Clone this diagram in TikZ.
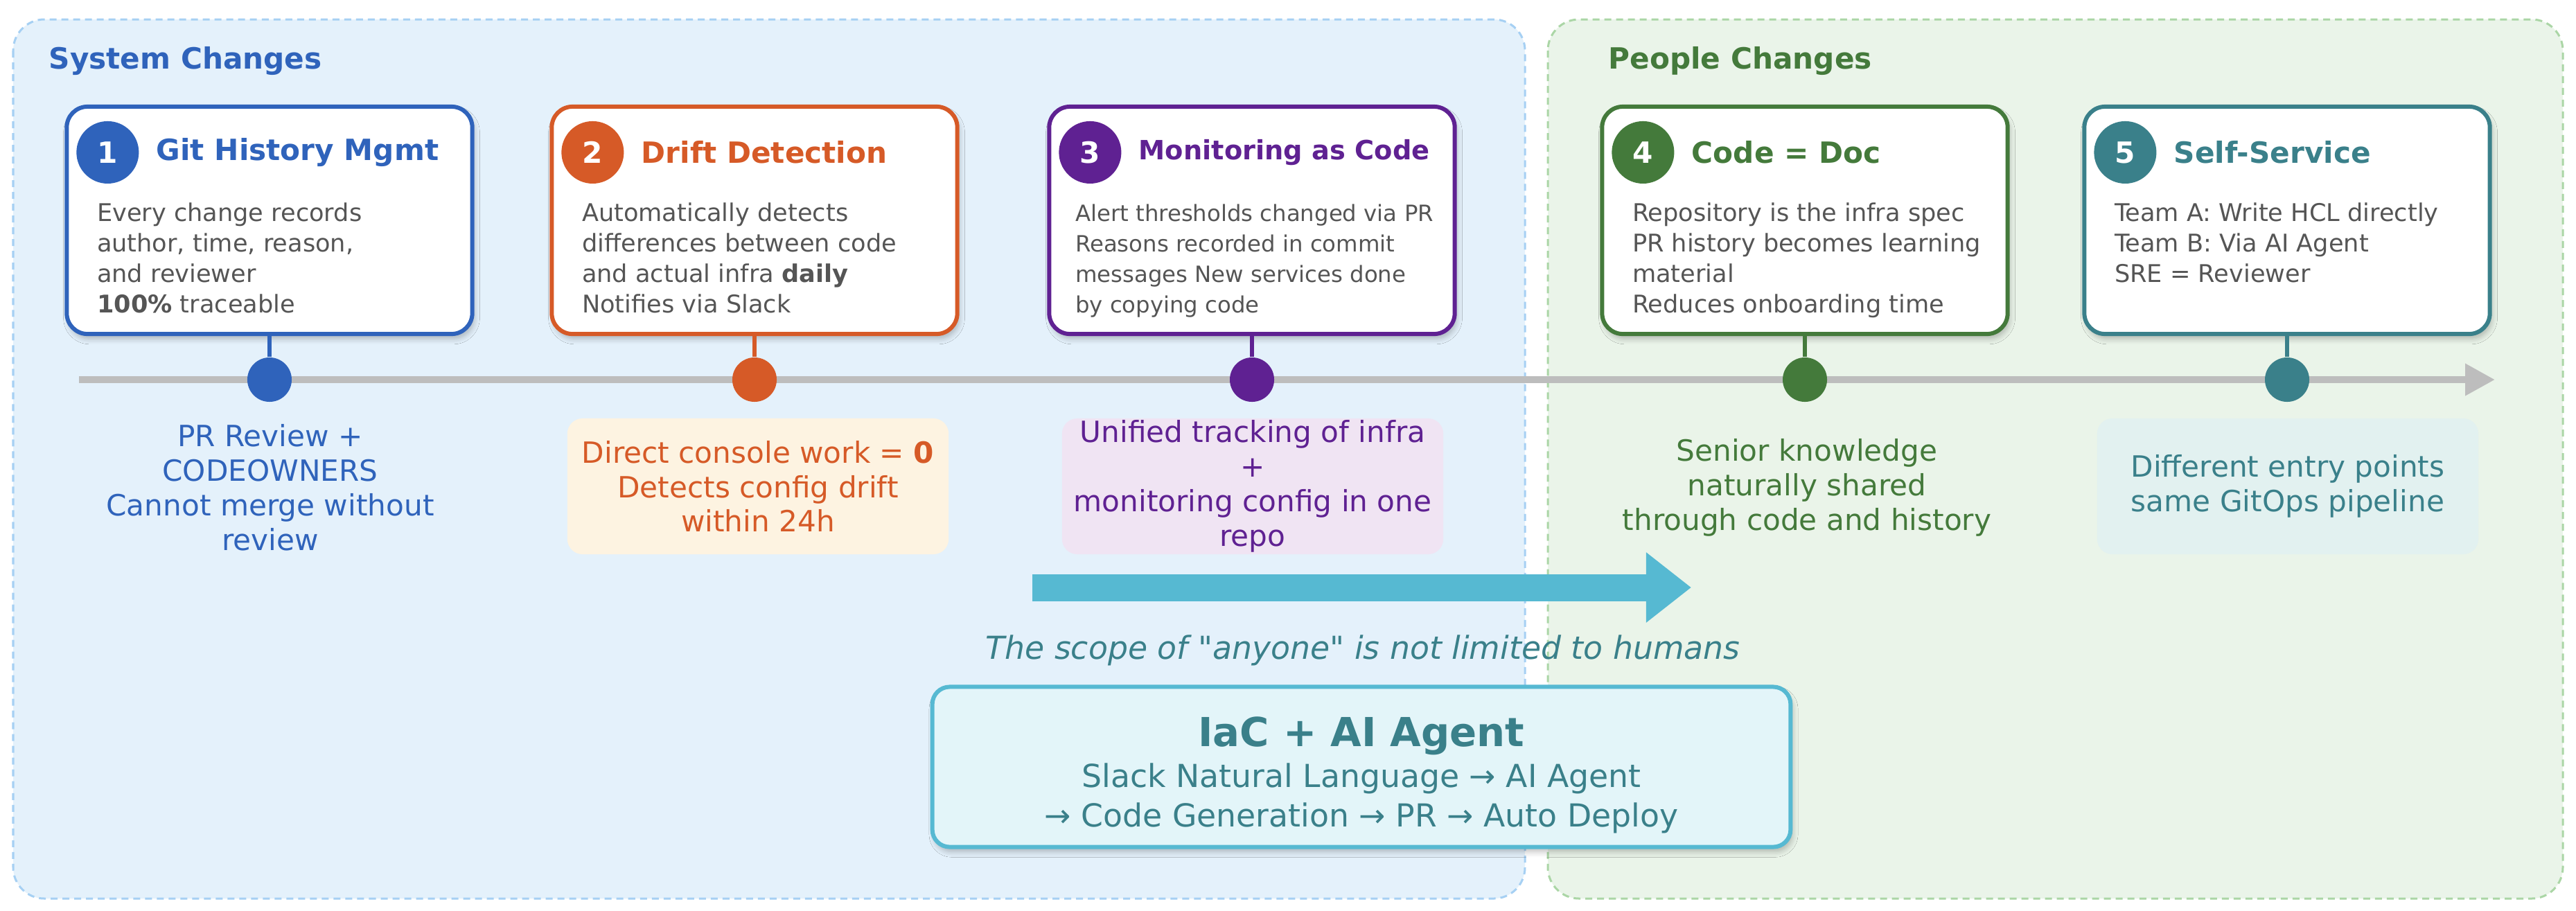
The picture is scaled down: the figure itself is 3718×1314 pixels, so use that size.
\documentclass[tikz,border=0pt]{standalone}
\usepackage{fontspec}
\setmainfont{DejaVu Sans}
\usetikzlibrary{arrows.meta,positioning,shadows.blur}

\definecolor{sysblue}{HTML}{2F63BB}
\definecolor{driftorange}{HTML}{D65A27}
\definecolor{monpurple}{HTML}{5F2192}
\definecolor{docgreen}{HTML}{447A3B}
\definecolor{selfteal}{HTML}{3A808A}
\definecolor{bodygray}{HTML}{555555}
\definecolor{linegray}{HTML}{BDBDBD}
\definecolor{flowcyan}{HTML}{56B9D2}
\definecolor{sysfill}{HTML}{E4F1FB}
\definecolor{sysedge}{HTML}{A6D0F3}
\definecolor{ppfill}{HTML}{EAF4E9}
\definecolor{ppedge}{HTML}{ABD6A6}
\definecolor{creamfill}{HTML}{FDF3E1}
\definecolor{lilacfill}{HTML}{F0E4F3}
\definecolor{mintfill}{HTML}{E2F1F0}
\definecolor{iacfill}{HTML}{E3F5F9}

\tikzset{
  panel/.style={rounded corners=0.45cm, dashed, dash pattern=on 0.1cm off 0.07cm, line width=0.03cm},
  card/.style={draw=#1, fill=white, line width=0.06cm, rounded corners=0.3cm,
    minimum width=5.85cm, minimum height=3.28cm,
    blur shadow={shadow xshift=0.03cm, shadow yshift=-0.07cm, shadow blur steps=6, shadow opacity=25}},
  badge/.style={circle, fill=#1, minimum size=0.9cm, inner sep=0pt, text=white,
    font=\fontsize{12}{12}\selectfont\bfseries},
  tldot/.style={circle, fill=#1, minimum size=0.64cm, inner sep=0pt},
  cardbody/.style={anchor=north west, inner sep=0pt, align=left, text=bodygray,
    font=\fontsize{10}{12.5}\selectfont},
  notetext/.style={inner sep=0pt, align=center, font=\fontsize{12}{14.2}\selectfont},
  notebox/.style={fill=#1, rounded corners=0.22cm, minimum width=5.5cm, minimum height=1.96cm},
  headline/.style={anchor=west, inner sep=0pt, font=\fontsize{12}{12}\selectfont\bfseries}
}

\begin{document}
\begin{tikzpicture}[x=0.01cm, y=-0.01cm]
  \useasboundingbox (0,0) rectangle (3718,1314);
  % background panels
  \draw[panel, draw=sysedge, fill=sysfill] (19,28) rectangle (2201,1297);
  \draw[panel, draw=ppedge, fill=ppfill] (2234,28) rectangle (3699,1297);
  \node[headline, text=sysblue] (systitle) at (70,88) {System Changes};
  \node[headline, text=docgreen] (pptitle) at (2321,88) {People Changes};
  % timeline
  \coordinate (tl-start) at (114,548);
  \coordinate (tl-end) at (3601,548);
  \draw[linegray, line width=0.1cm, -{Triangle[length=0.43cm, width=0.44cm]}] (tl-start) -- (tl-end);
  % cards with badge, title, stem and dot
  \foreach \i/\xx/\col/\fs/\ttl in {1/389/sysblue/12/Git History Mgmt,
      2/1089/driftorange/12/Drift Detection, 3/1807/monpurple/10.9/Monitoring as Code,
      4/2605/docgreen/12/Code = Doc, 5/3301/selfteal/12/Self-Service} {
    \node[card=\col] (card\i) at (\xx,318) {};
    \node[badge=\col] (badge\i) at ([xshift=0.62cm, yshift=-0.69cm]card\i.north west) {\i};
    \node[right=0.24cm of badge\i, inner sep=0pt, text=\col,
      font=\fontsize{\fs}{\fs}\selectfont\bfseries] (title\i) {\ttl};
    \node[tldot=\col] (dot\i) at (\xx,548) {};
    \draw[\col, line width=0.06cm] (card\i) -- (dot\i);
  }
  % card texts
  \node[cardbody] (body1) at ([xshift=0.46cm, yshift=-1.41cm]card1.north west)
    {Every change records\\author, time, reason,\\and reviewer\\\textbf{100\%} traceable};
  \node[cardbody] (body2) at ([xshift=0.46cm, yshift=-1.41cm]card2.north west)
    {Automatically detects\\differences between code\\and actual infra \textbf{daily}\\Notifies via Slack};
  \node[cardbody, font=\fontsize{9.2}{12.5}\selectfont] (body3) at ([xshift=0.40cm, yshift=-1.43cm]card3.north west)
    {Alert thresholds changed via PR\\Reasons recorded in commit\\messages New services done\\by copying code};
  \node[cardbody] (body4) at ([xshift=0.46cm, yshift=-1.41cm]card4.north west)
    {Repository is the infra spec\\PR history becomes learning\\material\\Reduces onboarding time};
  \node[cardbody] (body5) at ([xshift=0.46cm, yshift=-1.41cm]card5.north west)
    {Team A: Write HCL directly\\Team B: Via AI Agent\\SRE = Reviewer};
  % notes below the timeline
  \node[notetext, text=sysblue] (note1) at (390,704)
    {PR Review +\\CODEOWNERS\\Cannot merge without\\review};
  \node[notetext, notebox=creamfill, text=driftorange] (note2) at (1094,702)
    {Direct console work = \textbf{0}\\Detects config drift\\within 24h};
  \node[notetext, notebox=lilacfill, text=monpurple] (note3) at (1808,702)
    {Unified tracking of infra\\+\\monitoring config in one\\repo};
  \node[notetext, text=docgreen] (note4) at (2608,704)
    {Senior knowledge\\naturally shared\\through code and history};
  \node[notetext, notebox=mintfill, text=selfteal] (note5) at (3302,702)
    {Different entry points\\same GitOps pipeline};
  % flow arrow and agent box
  \coordinate (flow-from) at (1490,848);
  \coordinate (flow-to) at (2441,848);
  \draw[flowcyan, line width=0.39cm, -{Triangle[length=0.65cm, width=0.97cm]}] (flow-from) -- (flow-to);
  \node[text=selfteal, font=\fontsize{13}{13}\selectfont\itshape] (scope) at (1967,939)
    {The scope of \textquotedbl anyone\textquotedbl{} is not limited to humans};
  \node[draw=flowcyan, line width=0.06cm, fill=iacfill, rounded corners=0.25cm,
    minimum width=12.38cm, minimum height=2.31cm,
    blur shadow={shadow xshift=0.03cm, shadow yshift=-0.07cm, shadow blur steps=6, shadow opacity=25}] (agent) at (1965,1107) {};
  \node[text=selfteal, inner sep=0pt, font=\fontsize{16.4}{16.4}\selectfont\bfseries] (agent-title) at (1965,1062) {IaC + AI Agent};
  \node[text=selfteal, inner sep=0pt, align=center, font=\fontsize{13}{16.2}\selectfont] (agent-flow) at (1965,1152)
    {Slack Natural Language → AI Agent\\→ Code Generation → PR → Auto Deploy};
\end{tikzpicture}
\end{document}
